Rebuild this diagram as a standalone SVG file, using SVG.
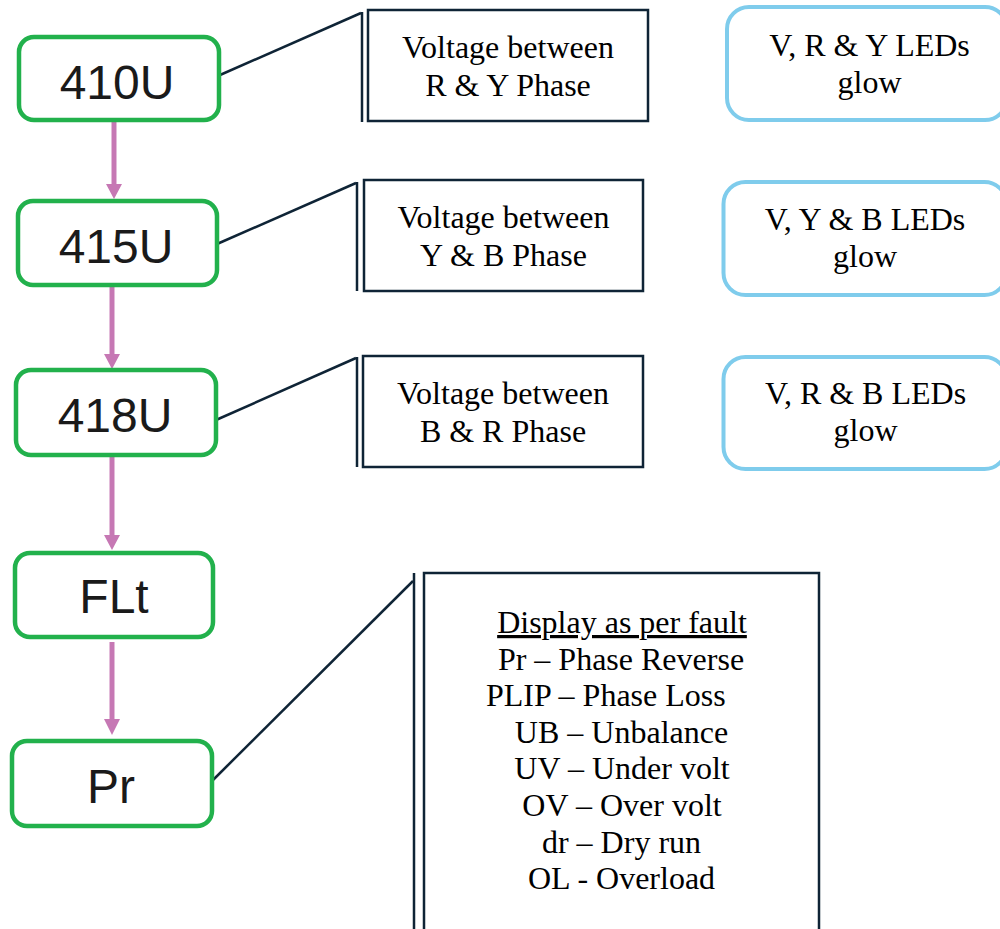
<svg xmlns="http://www.w3.org/2000/svg" width="1000" height="929" viewBox="0 0 1000 929">
<style>
.node rect{fill:#fff;stroke:#22B14C;stroke-width:4.5}
.node text{font-family:"Liberation Sans",Arial,sans-serif;font-size:48px;fill:#1a1a1a;text-anchor:middle}
.call rect{fill:#fff;stroke:#0F2436;stroke-width:2.5}
.led rect{fill:#fff;stroke:#7FCCEC;stroke-width:4}
.serif{font-family:"Liberation Serif","Times New Roman",serif;font-size:32px;fill:#000;text-anchor:middle}
.lead{stroke:#0F2436;stroke-width:2.5;fill:none}
.arr{stroke:#C678B4;stroke-width:5;fill:none}
.head{fill:#C678B4}
</style>
<g id="connectors">
  <line class="arr" x1="114" y1="122" x2="114" y2="186"/>
  <polygon class="head" points="106,184 122,184 114,199"/>
  <line class="arr" x1="112" y1="287" x2="112" y2="356"/>
  <polygon class="head" points="104,354 120,354 112,369"/>
  <line class="arr" x1="112" y1="456" x2="112" y2="537"/>
  <polygon class="head" points="104,535 120,535 112,550"/>
  <line class="arr" x1="112" y1="642" x2="112" y2="721"/>
  <polygon class="head" points="104,719 120,719 112,735"/>
  <polyline class="lead" points="220,75 361,13"/>
  <line class="lead" x1="362" y1="12" x2="362" y2="122"/>
  <polyline class="lead" points="217,244 356,183"/>
  <line class="lead" x1="357" y1="182" x2="357" y2="291"/>
  <polyline class="lead" points="216,420 356,358"/>
  <line class="lead" x1="357" y1="357" x2="357" y2="467"/>
  <polyline class="lead" points="213,780 413,581"/>
  <line class="lead" x1="414" y1="573" x2="414" y2="935"/>
</g>
<g id="n410U" class="node"><rect x="19" y="37" width="200" height="83" rx="15"/><text x="117" y="99">410U</text></g>
<g id="n415U" class="node"><rect x="18" y="201" width="199" height="84" rx="15"/><text x="116" y="263">415U</text></g>
<g id="n418U" class="node"><rect x="16" y="370" width="200" height="85" rx="15"/><text x="115" y="432">418U</text></g>
<g id="nFLt" class="node"><rect x="15" y="553" width="198" height="84" rx="15"/><text x="114" y="613">FLt</text></g>
<g id="nPr" class="node"><rect x="12" y="741" width="200" height="85" rx="15"/><text x="111" y="803">Pr</text></g>
<g id="c1" class="call"><rect x="368" y="10" width="280" height="111"/><text class="serif" x="508" y="58">Voltage between</text><text class="serif" x="508" y="96">R &amp; Y Phase</text></g>
<g id="c2" class="call"><rect x="364" y="180" width="279" height="111"/><text class="serif" x="503.5" y="228">Voltage between</text><text class="serif" x="503.5" y="266">Y &amp; B Phase</text></g>
<g id="c3" class="call"><rect x="363" y="356" width="280" height="111"/><text class="serif" x="503" y="404">Voltage between</text><text class="serif" x="503" y="442">B &amp; R Phase</text></g>
<g id="c4" class="call"><rect x="424" y="573" width="395" height="370"/>
  <text class="serif" x="622" y="633" text-decoration="underline">Display as per fault</text>
  <text class="serif" x="621" y="670">Pr – Phase Reverse</text>
  <text class="serif" x="486" y="706" style="text-anchor:start">PLIP – Phase Loss</text>
  <text class="serif" x="621.5" y="743">UB – Unbalance</text>
  <text class="serif" x="622" y="779">UV – Under volt</text>
  <text class="serif" x="622" y="816">OV – Over volt</text>
  <text class="serif" x="621.5" y="853">dr – Dry run</text>
  <text class="serif" x="621.5" y="889">OL - Overload</text>
</g>
<g id="led1" class="led"><rect x="727" y="7" width="280" height="113" rx="22"/><text class="serif" x="869.5" y="56">V, R &amp; Y LEDs</text><text class="serif" x="869.5" y="93">glow</text></g>
<g id="led2" class="led"><rect x="723.5" y="182" width="283" height="113" rx="22"/><text class="serif" x="865" y="230">V, Y &amp; B LEDs</text><text class="serif" x="865" y="267">glow</text></g>
<g id="led3" class="led"><rect x="723.5" y="357" width="283" height="112" rx="22"/><text class="serif" x="865.5" y="404">V, R &amp; B LEDs</text><text class="serif" x="865.5" y="441">glow</text></g>
</svg>
